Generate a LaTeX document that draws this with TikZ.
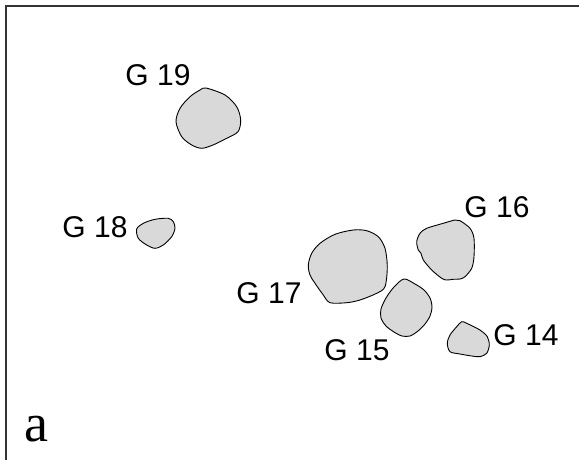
\documentclass[tikz,border=0pt]{standalone}
\usepackage{fontspec}
\setmainfont{Liberation Serif}
\setsansfont{Liberation Sans}
\usetikzlibrary{calc}
\tikzset{grain/.style={draw=black,fill=gray!30,line width=0.9pt}}
\tikzset{tag/.style={font=\sffamily\fontsize{30}{33}\selectfont,inner sep=0pt,anchor=base}}

\begin{document}
\begin{tikzpicture}[x=1pt,y=-1pt,
                    frame/.style={line width=2pt,black!80}]

		\useasboundingbox (0,0) rectangle (579,460);

		% A moldura (só topo e esquerda)
		\draw [frame] (579,6.5) -- (6,6.5) -- (6,460);

		% Grão G 19
		\draw [grain] plot [smooth cycle] coordinates {
			(206,88) (225,95) (236.7,106.7) (240.7,120) (238,131.7) (226.7,138.3)
			(213,145) (201.7,148.3) (191.7,145) (181.7,136.7) (176,121.7)
			(180,108.3) (190,96.7) (200,90)};

		% Grão G 18
		\draw [grain] plot [smooth cycle] coordinates {
			(136.7,229) (143.3,223.3) (155,219.3) (168.3,218.3) (173.3,221.7)
			(175,228.3) (171.7,236.7) (163.3,245) (155,248.3) (146.7,245)
			(138.3,238.3)};

		% Grão G 17
		\draw [grain] plot [smooth cycle] coordinates {
			(308.3,265) (311.7,253.3) (320,243.3) (335,234.3) (353.3,230)
			(366.7,230.7) (378.3,236.7) (385,248.3) (387.3,266.7) (385,286.7)
			(376.7,293.3) (360,300) (346.7,302.7) (330,302.7) (323.3,295)
			(315,283.3) (310,275)};

		% Grão G 16
		\draw [grain] plot [smooth cycle] coordinates {
			(416.7,241.7) (420,233.3) (426.7,228.3) (443.3,223.3) (455,220)
			(460,220.7) (470,228.3) (474,238.3) (474,256.7) (471.7,268.3)
			(465,276.7) (460,279) (453.3,279.3) (446.7,280) (441.7,278.3)
			(431.7,270) (423.3,260) (421,253.3) (418.3,250)};

		% Grão G 15
		\draw [grain] plot [smooth cycle] coordinates {
			(404,279) (415,284) (424,290) (430,298) (432,307) (430,316)
			(425,324) (418,331) (410,336) (402,336) (394,332) (386,326)
			(381,318) (381,309) (386,298) (394,287)};

		% Grão G 14
		\draw [grain] plot [smooth cycle] coordinates {
			(461.7,321.7) (466.7,323.3) (480,330) (487.3,336.7) (489.3,345)
			(486.7,353.3) (480,356.7) (471.7,356) (460,354) (450,351.7)
			(447.3,343.3) (450,335) (456.7,326.7)};

		% Rótulos
		\node [tag] (g19) at (158,85)  {G 19};
		\node [tag] (g18) at (95,237)  {G 18};
		\node [tag] (g17) at (269,303) {G 17};
		\node [tag] (g16) at (497,217) {G 16};
		\node [tag] (g15) at (357,360) {G 15};
		\node [tag] (g14) at (526,345) {G 14};

		% Letra do painel
		\node [inner sep=0pt,anchor=base west,font=\fontsize{54}{60}\selectfont]
			(panel) at (24,441.7) {a};

	\end{tikzpicture}
\end{document}
